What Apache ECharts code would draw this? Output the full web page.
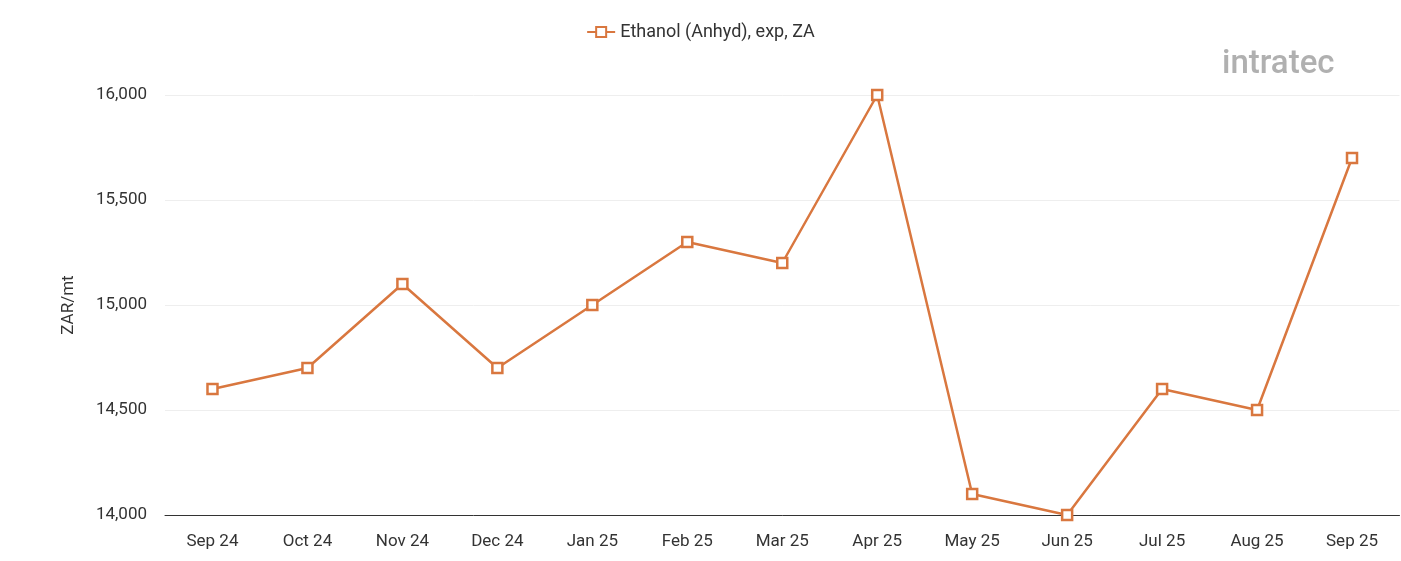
<!DOCTYPE html>
<html><head><meta charset="utf-8">
<script src="https://cdn.jsdelivr.net/npm/echarts@6/dist/echarts.min.js"></script>
<style>html,body{margin:0;padding:0;background:#fff}#c{width:1401px;height:561px}</style>
</head><body><div id="c"></div>
<script>
const categories = ['Sep 24','Oct 24','Nov 24','Dec 24','Jan 25','Feb 25','Mar 25','Apr 25','May 25','Jun 25','Jul 25','Aug 25','Sep 25'];
const values = [14600,14700,15100,14700,15000,15300,15200,16000,14100,14000,14600,14500,15700];
const seriesName = 'Ethanol (Anhyd), exp, ZA';
const color = '#D9773F';
const chart = echarts.init(document.getElementById('c'));
chart.setOption({
  animation:false,
  textStyle:{fontFamily:'Roboto'},
  graphic:[{type:'text',left:1222,top:48,style:{text:'intratec',fontSize:33,fontFamily:'Roboto',fill:'#b0b0b0',fontWeight:500}}],
  legend:{top:18,left:'center',itemWidth:28,itemHeight:12,textStyle:{fontSize:18,color:'#333'},data:[{name:seriesName,icon:'path://M0,5L9,5M19,5L28,5M9,0L19,0L19,10L9,10Z'}]},
  grid:{left:165,right:1.5,top:95,bottom:46},
  xAxis:{type:'category',data:categories,boundaryGap:true,
    axisLine:{lineStyle:{color:'#333'}},axisTick:{show:false},
    axisLabel:{fontSize:17,color:'#333',margin:18}},
  yAxis:{type:'value',min:14000,max:16000,interval:500,name:'ZAR/mt',nameLocation:'middle',nameGap:88,
    nameTextStyle:{fontSize:17,color:'#333'},
    axisLabel:{fontSize:17,color:'#333',margin:18,formatter:v=>v.toLocaleString('en-US')},
    splitLine:{lineStyle:{color:'#eee'}}},
  series:[{name:seriesName,type:'line',data:values,symbol:'rect',symbolSize:10,
    lineStyle:{color:color,width:2.5},itemStyle:{color:'#fff',borderColor:color,borderWidth:2.5}}]
});
</script></body></html>
